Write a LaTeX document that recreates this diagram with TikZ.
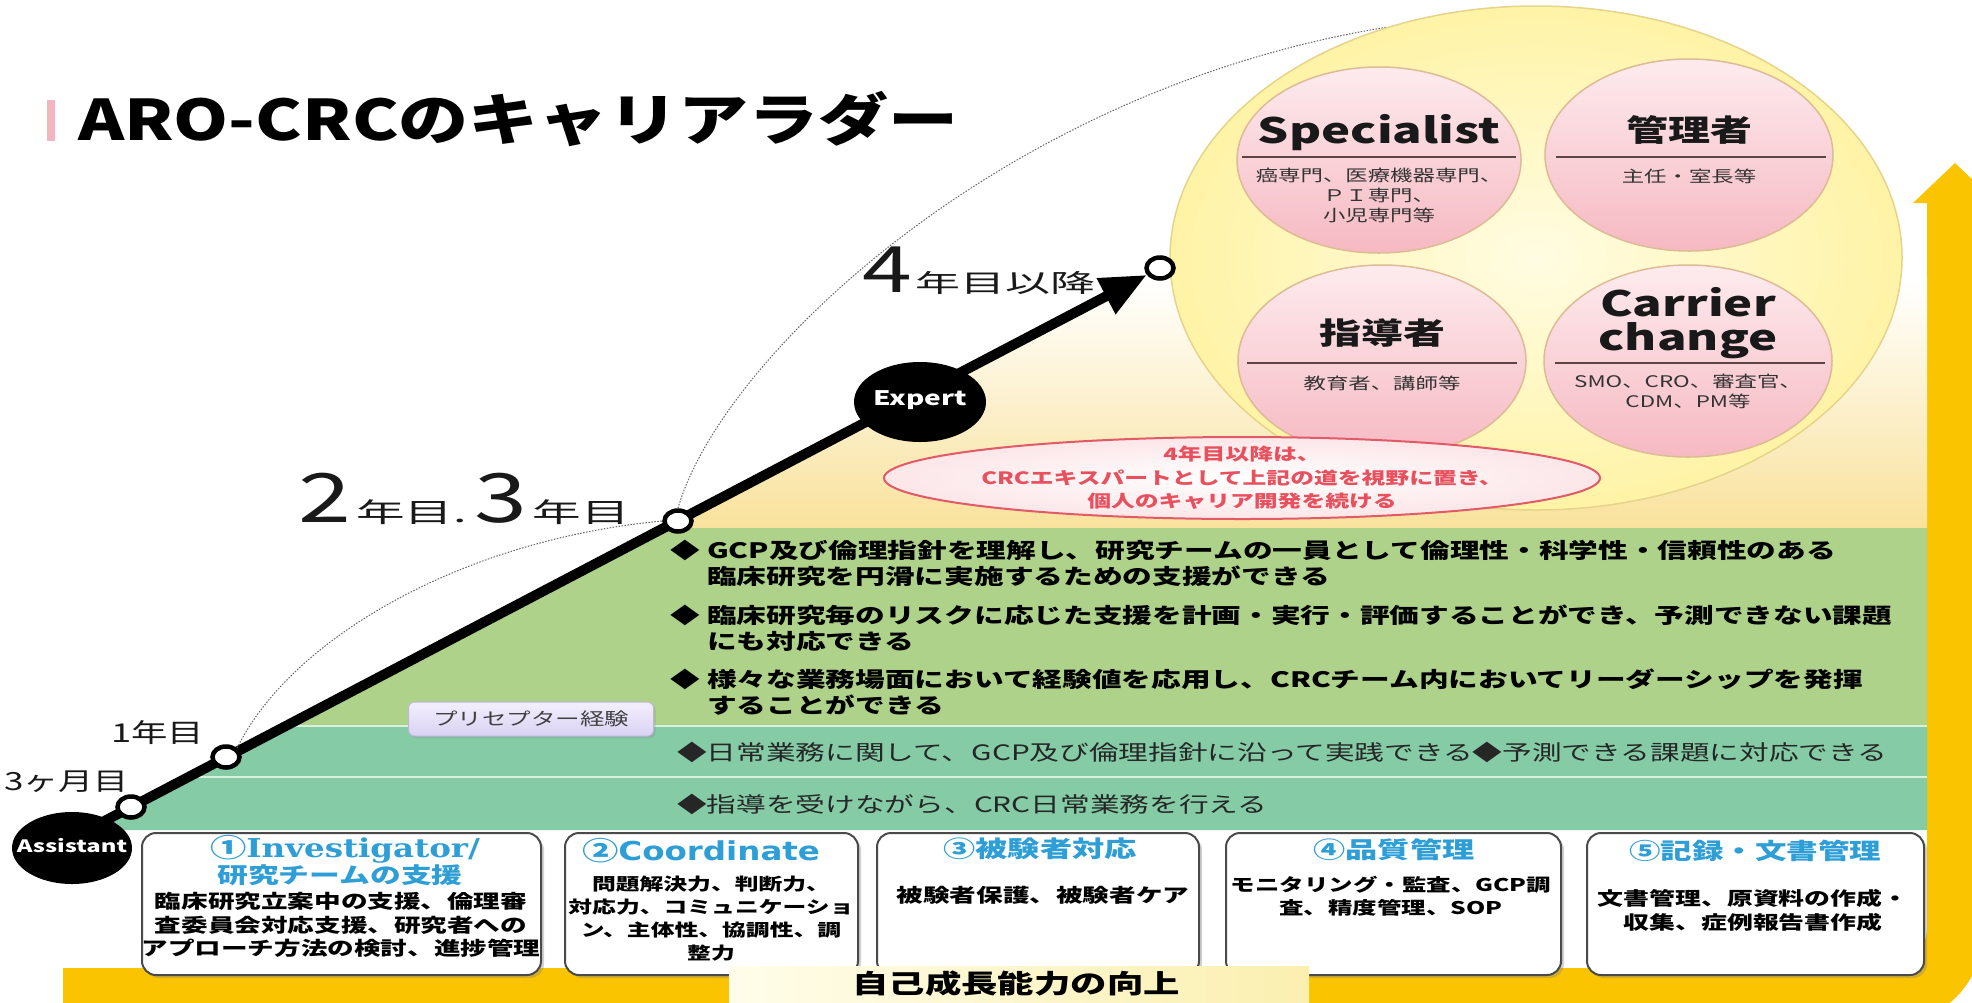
\documentclass[tikz,border=0pt]{standalone}
\usepackage{fontspec}
\usetikzlibrary{shapes.geometric,arrows.meta,shadows,calc}
\newfontfamily\jpT[FakeStretch=1.25]{Noto Sans CJK JP}
\newfontfamily\jp[FakeStretch=1.4]{Noto Sans CJK JP}
\newfontfamily\jpW[FakeStretch=1.8]{Noto Sans CJK JP}
\newfontfamily\serifB[FakeStretch=1.25]{DejaVu Serif}
\newfontfamily\sansB[FakeStretch=1.25]{DejaVu Sans}
\newcommand\fsz[2]{\fontsize{#1}{#2}\selectfont}
\definecolor{bandY}{HTML}{FAC400}
\definecolor{creamY}{HTML}{F9E29C}
\definecolor{limeG}{HTML}{AED28A}
\definecolor{tealG}{HTML}{84CBA6}
\definecolor{sepL}{HTML}{D8F0DC}
\definecolor{bigIn}{HTML}{FFFCE2}
\definecolor{bigOut}{HTML}{FFF3A6}
\definecolor{bigEdge}{HTML}{E6D48A}
\definecolor{pinktop}{HTML}{FDEBEE}
\definecolor{pinkbot}{HTML}{F6B9C2}
\definecolor{pinkedge}{HTML}{DDBB95}
\definecolor{pinkln}{HTML}{5A4646}
\definecolor{redE}{HTML}{E05A68}
\definecolor{redT}{HTML}{E8505E}
\definecolor{redIn}{HTML}{FFFFFF}
\definecolor{redOut}{HTML}{FCE6E8}
\definecolor{boxedge}{HTML}{4A4A4A}
\definecolor{titleB}{HTML}{2E9ED6}
\definecolor{pinkbar}{HTML}{F2B6BE}
\definecolor{precT}{HTML}{F3F0FD}
\definecolor{precB}{HTML}{D9D2F3}
\definecolor{precE}{HTML}{BDB5DA}
\definecolor{growL}{HTML}{FFFDEA}
\definecolor{growR}{HTML}{FBEFB0}
\pgfdeclarelayer{bgL}
\pgfdeclarelayer{lineL}
\pgfsetlayers{bgL,lineL,main}
\begin{document}
\begin{tikzpicture}[x=1pt,y=-1pt,
  smallc/.style={ellipse,draw=black,fill=white,line width=4.5pt,minimum width=27pt,minimum height=21pt,inner sep=0pt},
  blackc/.style={ellipse,fill=black,inner sep=0pt},
  wtxt/.style={text=white,inner sep=0pt},
  bigcirc/.style={ellipse,draw=bigEdge,line width=1.5pt,inner color=bigIn,outer color=bigOut,minimum width=732pt,minimum height=504pt,inner sep=0pt},
  pinkc/.style={ellipse,draw=pinkedge,line width=1.5pt,top color=pinktop,bottom color=pinkbot,minimum width=288pt,minimum height=192pt,inner sep=0pt},
  pinkline/.style={draw=pinkln,line width=1.6pt},
  hdr/.style={font=\jp\bfseries\fsz{35}{34},text=black!90,inner sep=0pt,align=center},
  hdrJ/.style={font=\jp\bfseries\fsz{30}{32},text=black!90,inner sep=0pt},
  subt/.style={font=\jp\fsz{16}{20},text=black!80,inner sep=0pt,align=center},
  redell/.style={ellipse,draw=redE,line width=2pt,inner color=redIn,outer color=redOut,minimum width=716pt,minimum height=82pt,inner sep=0pt},
  redtxt/.style={font=\jp\bfseries\fsz{17}{23.5},text=redT,inner sep=0pt,align=center},
  wbox/.style={draw=boxedge,line width=2pt,rounded corners=14pt,fill=white,drop shadow={shadow xshift=3pt,shadow yshift=-3pt,opacity=0.35},minimum height=142pt,inner sep=0pt},
  btitle/.style={text=titleB,font=\jp\bfseries\fsz{23}{26},inner sep=0pt,align=center},
  bbody/.style={font=\jp\bfseries\fsz{19}{23.5},inner sep=0pt,align=center},
  yr/.style={inner sep=0pt,anchor=base west,text=black!90},
  dotarc/.style={draw=black!60,line width=1pt,dash pattern=on 1.5pt off 1.5pt},
  bul/.style={font=\jp\bfseries\fsz{21.2}{26},inner sep=0pt},
  lime/.style={font=\jp\bfseries\fsz{21.2}{26},inner sep=0pt,align=left,anchor=west},
  teal/.style={font=\jp\fsz{21.2}{24},inner sep=0pt,anchor=west,text=black!85},
  precep/.style={rounded corners=6pt,draw=precE,line width=1pt,top color=precT,bottom color=precB,minimum width=245pt,minimum height=34pt,inner sep=0pt,font=\jp\fsz{17.5}{20},text=black!75,drop shadow={shadow xshift=2pt,shadow yshift=-2pt,opacity=0.25}},
  growlab/.style={left color=growL,right color=growR,minimum width=580pt,minimum height=40pt,inner sep=0pt},
]
\useasboundingbox (0,0) rectangle (1972,1002);
\clip (0,0) rectangle (1972,1002);

\begin{pgfonlayer}{bgL}
\fill[white] (0,0) rectangle (1972,1002);
% yellow L-shaped arrow
\fill[bandY] (63,968) -- (1887,968) .. controls (1909,968) and (1927,950) .. (1927,928)
  -- (1927,203) -- (1913,203) -- (1955,163) -- (1997,203) -- (1983,203) -- (1983,932)
  .. controls (1983,983) and (1942,1024) .. (1891,1024) -- (63,1024) -- cycle;
% cream gradient area under the ladder
\shade[top color=white,bottom color=creamY] (664,528) -- (1141,278) -- (1927,278) -- (1927,528) -- cycle;
% green bands
\fill[limeG] (664,528) -- (1927,528) -- (1927,726) -- (286,726) -- cycle;
\fill[tealG] (286,726) -- (1927,726) -- (1927,830) -- (87,830) -- cycle;
\draw[sepL,line width=2pt] (286,726) -- (1927,726);
\draw[sepL,line width=2pt] (188,777) -- (1927,777);
\end{pgfonlayer}

% title
\fill[pinkbar] (47,100) rectangle (55,141);
\node[anchor=base west,inner sep=0pt,font=\jpT\bfseries\fsz{56}{56}] (title) at (78,140) {ARO-CRCのキャリアラダー};

% career circle
\node[bigcirc] (career) at (1536,258) {};
\node[pinkc,minimum width=284pt,minimum height=186pt] (spec) at (1379,160) {};
\node[pinkc] (mgr) at (1689,155) {};
\node[pinkc] (lead) at (1382,361) {};
\node[pinkc] (chg) at (1688,361) {};
\draw[pinkline] ($(spec.west)+(6,-3)$) -- ($(spec.east)+(-6,-3)$);
\draw[pinkline] ($(mgr.west)+(12,2)$) -- ($(mgr.east)+(-8,2)$);
\draw[pinkline] ($(lead.west)+(10,2)$) -- ($(lead.east)+(-10,2)$);
\draw[pinkline] ($(chg.west)+(12,2)$) -- ($(chg.east)+(-8,2)$);
\node[hdr] (specT) at (1379,133) {Specialist};
\node[subt] (specS) at (1379,195) {癌専門、医療機器専門、\\ＰＩ専門、\\小児専門等};
\node[hdrJ] (mgrT) at (1689,130) {管理者};
\node[subt] (mgrS) at (1689,176) {主任・室長等};
\node[hdrJ] (leadT) at (1382,333) {指導者};
\node[subt] (leadS) at (1382,383) {教育者、講師等};
\node[hdr] (chgT) at (1688,323) {Carrier\\change};
\node[subt] (chgS) at (1688,391) {SMO、CRO、審査官、\\CDM、PM等};

% red note
\node[redell] (note) at (1242,478) {};
\node[redtxt] (noteT) at (1242,478) {4年目以降は、\\CRCエキスパートとして上記の道を視野に置き、\\個人のキャリア開発を続ける};

% ladder nodes
\node[blackc,minimum width=120pt,minimum height=72pt] (assist) at (72,848) {};
\node[wtxt,font=\jp\bfseries\fsz{17}{19}] (assistT) at (72,846) {Assistant};
\node[smallc] (m3) at (131,807) {};
\node[smallc] (y1) at (226,757) {};
\node[smallc] (y23) at (678,521) {};
\node[blackc,minimum width=132pt,minimum height=80pt] (expert) at (920,402) {};
\node[wtxt,font=\jp\bfseries\fsz{20}{22}] (expertT) at (920,400) {Expert};
\node[smallc] (y4) at (1160,268) {};
\coordinate (lstart) at (72,838);

\begin{pgfonlayer}{lineL}
\draw[line width=10pt,-{Triangle[length=46pt,width=38pt]}] (lstart) -- (y4);
\draw[dotarc] (y1.north east) .. controls (290,640) and (460,540) .. (y23.west);
\draw[dotarc] (y23.north) .. controls (720,360) and (1000,90) .. (career.123);
\end{pgfonlayer}

% year labels
\node[yr] (lab4) at (862,292) {\jp\fsz{64}{64}4\hspace{4pt}{\jpW\fsz{25}{25}年目以降}};
\node[yr] (lab23) at (298,522) {\jp\fsz{68}{68}2\hspace{5pt}{\jpW\fsz{27}{27}年目.}\hspace{8pt}3\hspace{5pt}{\jpW\fsz{27}{27}年目}};
\node[yr] (lab1) at (111,742) {\jp\fsz{26}{26}1年目};
\node[yr] (lab3m) at (4,790) {\jp\fsz{25}{25}3ヶ月目};

% band texts
\node[bul] (bu1) at (685,550) {◆};
\node[lime] (li1) at (707,563) {GCP及び倫理指針を理解し、研究チームの一員として倫理性・科学性・信頼性のある\\臨床研究を円滑に実施するための支援ができる};
\node[bul] (bu2) at (685,615) {◆};
\node[lime] (li2) at (707,628) {臨床研究毎のリスクに応じた支援を計画・実行・評価することができ、予測できない課題\\にも対応できる};
\node[bul] (bu3) at (685,679) {◆};
\node[lime] (li3) at (707,692) {様々な業務場面において経験値を応用し、CRCチーム内においてリーダーシップを発揮\\することができる};
\node[teal] (te1) at (677,752) {◆日常業務に関して、GCP及び倫理指針に沿って実践できる◆予測できる課題に対応できる};
\node[teal] (te2) at (677,804) {◆指導を受けながら、CRC日常業務を行える};
\node[precep] (prec) at (531,719) {プリセプター経験};

% boxes
\node[wbox,minimum width=399pt] (b1) at (341.5,904) {};
\node[wbox,minimum width=293pt] (b2) at (711.5,904) {};
\node[wbox,minimum width=322pt] (b3) at (1038,904) {};
\node[wbox,minimum width=335pt] (b4) at (1393.5,904) {};
\node[wbox,minimum width=337pt] (b5) at (1755.5,904) {};

\node[btitle] (b1t) at (345,849) {{\fsz{26}{26}①}{\serifB\fsz{26}{26}Investigator/}};
\node[btitle,font=\jp\bfseries\fsz{22}{24}] (b1t2) at (340,875) {研究チームの支援};
\node[bbody] (b1b) at (341,925) {臨床研究立案中の支援、倫理審\\査委員会対応支援、研究者への\\アプローチ方法の検討、進捗管理};
\node[btitle] (b2t) at (701,851) {{\fsz{26}{26}②}{\sansB\fsz{26}{26}Coordinate}};
\node[bbody,font=\jp\bfseries\fsz{17}{23}] (b2b) at (711,919) {問題解決力、判断力、\\対応力、コミュニケーショ\\ン、主体性、協調性、調\\整力};
\node[btitle] (b3t) at (1040,849) {③被験者対応};
\node[bbody] (b3b) at (1043,895) {被験者保護、被験者ケア};
\node[btitle] (b4t) at (1394,850) {④品質管理};
\node[bbody,font=\jp\bfseries\fsz{17.5}{23}] (b4b) at (1391,896) {モニタリング・監査、GCP調\\査、精度管理、SOP};
\node[btitle,font=\jp\bfseries\fsz{22.5}{25}] (b5t) at (1755,851) {⑤記録・文書管理};
\node[bbody,font=\jp\bfseries\fsz{18.5}{24}] (b5b) at (1753,910) {文書管理、原資料の作成・\\収集、症例報告書作成};

% bottom label
\node[growlab] (growB) at (1019,986) {};
\node[inner sep=0pt,font=\jp\bfseries\fsz{26}{28}] (growT) at (1016,984) {自己成長能力の向上};
\end{tikzpicture}
\end{document}
